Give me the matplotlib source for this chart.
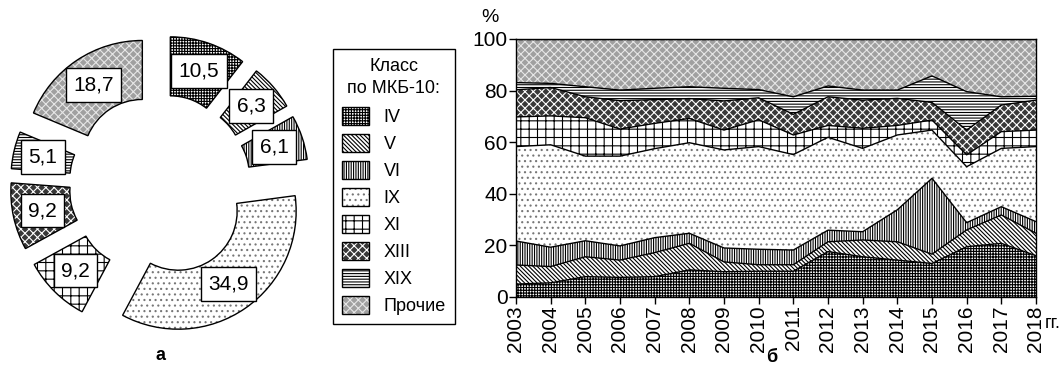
import matplotlib.pyplot as plt
from matplotlib.patches import Patch, Wedge
import numpy as np

plt.rcParams['font.family'] = ['Liberation Sans', 'DejaVu Sans']
plt.rcParams['hatch.linewidth'] = 0.8

# donut (a): share of classes, %
pie_labels = ["IV", "V", "VI", "IX", "XI", "XIII", "XIX", "Прочие"]
pie_values = [10.5, 6.3, 6.1, 34.9, 9.2, 9.2, 5.1, 18.7]

# stacked areas (б): share of each class by year, %
years = list(range(2003, 2019))
iv = [5.0, 5.5, 7.9, 7.6, 7.9, 10.5, 9.8, 10.0, 10.0, 17.6, 15.6, 14.3, 13.0, 19.5, 20.8, 16.0]
v = [7.4, 6.3, 7.7, 6.7, 9.3, 10.3, 3.8, 2.5, 2.5, 3.8, 6.5, 7.1, 3.6, 6.5, 11.0, 8.7]
vi = [9.3, 7.5, 6.2, 5.5, 5.8, 3.9, 5.4, 6.0, 5.7, 4.5, 3.2, 12.4, 29.4, 2.8, 3.2, 4.5]
ix = [36.6, 39.7, 32.8, 34.8, 34.5, 35.1, 38.0, 39.8, 37.0, 36.0, 32.3, 29.0, 18.7, 21.7, 22.6, 29.1]
xi = [11.5, 11.2, 14.9, 10.5, 9.8, 9.4, 7.7, 10.4, 7.6, 4.6, 7.8, 3.7, 3.9, 4.6, 6.5, 6.4]
xiii = [10.5, 11.0, 8.1, 11.0, 9.2, 7.7, 11.3, 8.5, 8.0, 11.1, 10.9, 10.5, 6.8, 9.6, 10.3, 11.6]
xix = [2.8, 1.6, 3.9, 4.1, 4.4, 4.6, 4.9, 3.2, 6.8, 4.2, 3.9, 3.2, 10.3, 14.9, 3.2, 1.5]
other = [16.9, 17.2, 18.5, 19.8, 19.1, 18.5, 19.1, 19.6, 22.4, 18.2, 19.8, 19.8, 14.3, 20.4, 22.4, 22.2]
series = [iv, v, vi, ix, xi, xiii, xix, other]

# look of each class: facecolor, hatch colour, hatch
styles = [
    ("white", "black", "++++++"),
    ("white", "black", "\\\\\\\\\\\\\\\\"),
    ("white", "black", "|||||||"),
    ("white", "#777777", "..."),
    ("white", "black", "++"),
    ("#383838", "white", "xxxx"),
    ("white", "black", "------"),
    ("#a0a0a0", "#e6e6e6", "xxxx"),
]

fig = plt.figure(figsize=(10.64, 3.69), dpi=100)

# --- а: donut ---
ax1 = fig.add_axes([0, 24 / 369, 320 / 1064, 320 / 369])
wedges, texts, autotexts = ax1.pie(
    pie_values, explode=[0.27] * len(pie_values), startangle=90, counterclock=False,
    wedgeprops=dict(width=0.5, linewidth=0),
    autopct=lambda p: f"{p:.1f}".replace(".", ","), pctdistance=0.75)
for w, (fc, hc, h) in zip(wedges, styles):
    w.set_facecolor(fc)
    w.set_edgecolor(hc)
    w.set_hatch(h)
    ax1.add_patch(Wedge(w.center, w.r, w.theta1, w.theta2, width=w.width,
                        fill=False, edgecolor="black", linewidth=1))
for t in autotexts:
    t.set_fontsize(15)
    t.set_zorder(5)
    t.set_bbox(dict(boxstyle="square,pad=0.35", facecolor="white", edgecolor="black", linewidth=1))
lim = 160 / 118
ax1.set_xlim(-lim, lim)
ax1.set_ylim(-lim, lim)

# --- б: stacked area ---
ax2 = fig.add_axes([516 / 1064, 72 / 369, 520 / 1064, 258 / 369])
bottom = np.zeros(len(years))
for vals, (fc, hc, h) in zip(series, styles):
    top = bottom + np.array(vals)
    ax2.fill_between(years, bottom, top, facecolor=fc, edgecolor=hc, hatch=h, linewidth=0)
    ax2.plot(years, top, color="black", linewidth=1)
    bottom = top
ax2.set_xlim(2003, 2018)
ax2.set_ylim(0, 100)
ax2.set_xticks(years)
ax2.set_xticklabels([str(y) for y in years], rotation=90, fontsize=15)
ax2.set_yticks(range(0, 101, 20))
ax2.tick_params(axis="y", labelsize=15, length=5, width=1, pad=1)
ax2.tick_params(axis="x", length=5, width=1, pad=1)
for s in ax2.spines.values():
    s.set_linewidth(1)

fig.text(490 / 1064, 1 - 17 / 369, "%", fontsize=14, ha="center", va="center")
fig.text(1045 / 1064, 1 - 323 / 369, "гг.", fontsize=13, ha="left", va="center")
fig.text(160 / 1064, 1 - 355 / 369, "а", fontsize=13, fontweight="bold", ha="center", va="center")
fig.text(772 / 1064, 1 - 357 / 369, "б", fontsize=13, fontweight="bold", ha="center", va="center")

# legend
handles = [(Patch(facecolor=fc, edgecolor=hc, hatch=h, linewidth=0),
            Patch(fill=False, edgecolor="black", linewidth=1)) for fc, hc, h in styles]
leg = fig.legend(handles, pie_labels, title="Класс\nпо МКБ-10:", loc="upper left",
                 bbox_to_anchor=(333 / 1064, 1 - 49 / 369), fontsize=13, title_fontsize=13,
                 fancybox=False, framealpha=1, edgecolor="black", borderaxespad=0,
                 handlelength=1.5, handleheight=1.15, labelspacing=0.44, handletextpad=0.8,
                 borderpad=0.5)
leg.get_title().set_multialignment("center")
leg.get_title().set_linespacing(1.4)
leg._legend_box.sep = 7
leg.get_frame().set_linewidth(1)

fig.savefig("out.png", dpi=100)
